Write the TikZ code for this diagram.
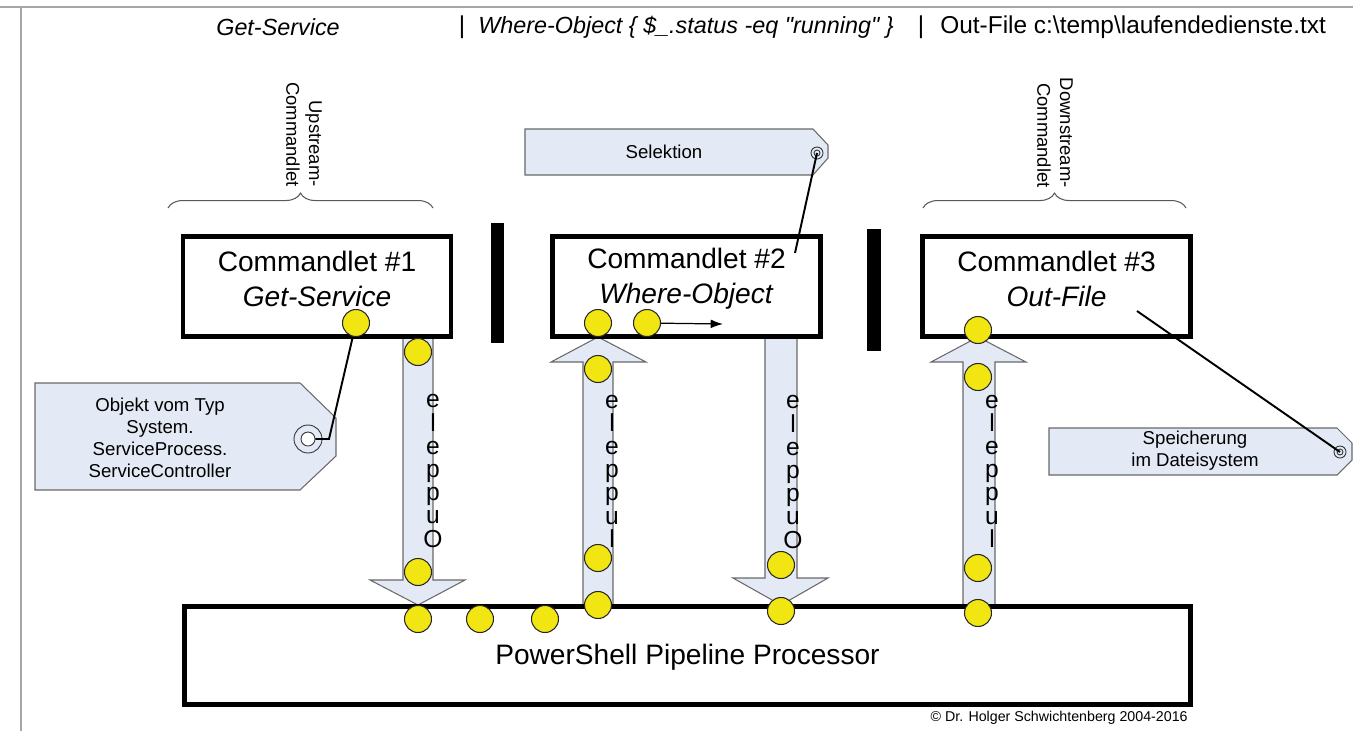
\documentclass[tikz,border=0pt]{standalone}
\usepackage{fontspec}
\setmainfont{Liberation Sans}
\usetikzlibrary{decorations.pathreplacing,arrows.meta}
\definecolor{tagfill}{RGB}{228,234,245}
\definecolor{tagline}{RGB}{105,105,105}
\definecolor{dotfill}{RGB}{242,230,18}
% raw fonts, so that " stays a straight quote
\font\topit="Liberation Sans/I" at 13.3pt
\font\toprm="Liberation Sans" at 13.9pt
\begin{document}
\begin{tikzpicture}[x=0.02cm,y=-0.02cm,
  cmdbox/.style={draw, line width=2.6pt, minimum width=5.36cm, minimum height=2cm, inner sep=0},
  bigtext/.style={font=\fontsize{16}{19.8}\selectfont, align=center},
  blockarrow/.style={draw=tagline, fill=tagfill, line width=0.6pt},
  tagshape/.style={draw=tagline, fill=tagfill, line width=0.6pt},
  tagtext/.style={font=\fontsize{10.6}{12.5}\selectfont, align=center},
  obj/.style={circle, draw=black!85, fill=dotfill, line width=0.6pt, minimum size=0.54cm, inner sep=0},
  ring/.style={circle, draw=black!80, line width=0.5pt, inner sep=0},
  tieline/.style={line width=1.1pt},
  flowtext/.style={font=\fontsize{14}{13.2}\selectfont, align=center, inner sep=0},
  sidetext/.style={font=\fontsize{10.5}{13}\selectfont, rotate=-90, anchor=east, align=right, inner sep=0},
  curly/.style={draw=black!65, line width=0.6pt, decorate, decoration={brace, amplitude=8.5pt}},
  toptext/.style={inner sep=0}]
\useasboundingbox (0,0) rectangle (1353,731);
% frame
\draw[black!35, line width=1.1pt] (0,7) -- (1353,7);
\draw[black!35, line width=1.1pt] (21,7) -- (21,731);

% command line
\node[toptext] (gs) at (278,27) {\topit Get-Service};
\node[toptext] (pipe1) at (462,27) {\toprm |};
\node[toptext, anchor=west] (wo) at (478,27) {\topit Where-Object \{ \$\_.status -eq "running" \}};
\node[toptext] (pipe2) at (921,27) {\toprm |};
\node[toptext, anchor=west] (of) at (940,27) {\toprm Out-File c:\textbackslash temp\textbackslash laufendedienste.txt};

% upstream / downstream
\draw[curly] (168,208) -- (433,208);
\draw[curly] (923,208) -- (1186,208);
\node[sidetext] (up) at (304,187) {Upstream-\\Commandlet};
\node[sidetext] (down) at (1055,188) {Downstream-\\Commandlet};

% tags
\draw[tagshape] (35,383) -- (300,383) -- (336,418) -- (336,456) -- (300,490) -- (35,490) -- cycle;
\node[tagtext] (objtxt) at (160,438) {Objekt vom Typ\\System.\\ServiceProcess.\\ServiceController};
\node[ring, minimum size=0.56cm] (hole1) at (308,439) {};
\node[ring, minimum size=0.28cm, fill=white] (hole1i) at (308,439) {};
\draw[tagshape] (525,129) -- (813,129) -- (828,145) -- (828,158) -- (813,175) -- (525,175) -- cycle;
\node[tagtext] (seltxt) at (664,152) {Selektion};
\node[ring, minimum size=0.24cm] (hole2) at (817,153) {};
\node[ring, minimum size=0.12cm] at (817,153) {};
\draw[tagshape] (1049,428) -- (1337,428) -- (1352,443) -- (1352,460) -- (1337,475) -- (1049,475) -- cycle;
\node[tagtext] (savetxt) at (1195,451) {Speicherung\\im Dateisystem};
\node[ring, minimum size=0.24cm] (hole3) at (1340,452) {};
\node[ring, minimum size=0.12cm] at (1340,452) {};

% block arrows
\draw[blockarrow] (403,337) -- (403,580) -- (370,580) -- (418,605) -- (465,580) -- (433,580) -- (433,337) -- cycle;
\draw[blockarrow] (583,605) -- (583,362) -- (551,362) -- (598,337) -- (646,362) -- (613,362) -- (613,605) -- cycle;
\draw[blockarrow] (765,337) -- (765,578) -- (733,578) -- (781,605) -- (828,578) -- (797,578) -- (797,337) -- cycle;
\draw[blockarrow] (963,605) -- (963,362) -- (931,362) -- (978,337) -- (1026,362) -- (995,362) -- (995,605) -- cycle;
\node[flowtext] (out1) at (433,471) {e\\l\\e\\p\\p\\u\\O};
\node[flowtext] (in1) at (612,471) {e\\l\\e\\p\\p\\u\\l};
\node[flowtext] (out2) at (793,472) {e\\l\\e\\p\\p\\u\\O};
\node[flowtext] (in2) at (992,471) {e\\l\\e\\p\\p\\u\\l};

% commandlets and separators
\node[cmdbox] (cmd1) at (317,286.5) {};
\node[cmdbox] (cmd2) at (686.5,286.5) {};
\node[cmdbox] (cmd3) at (1056.5,286.5) {};
\node[bigtext] at (317,279) {Commandlet \#1\\\textit{Get-Service}};
\node[bigtext] at (686.5,279) {Commandlet \#2\\\textit{Where-Object}};
\node[bigtext] at (1056.5,279) {Commandlet \#3\\\textit{Out-File}};
\fill (491,223) rectangle (504,343);
\fill (867,229) rectangle (881,351);
\node[cmdbox, minimum width=20.12cm, minimum height=1.96cm] (proc) at (687.5,655.5) {};
\node[bigtext] at (687.5,657) {PowerShell Pipeline Processor};

% connectors to the tags
\coordinate (sel) at (795,253);
\coordinate (save) at (1137,311);
\coordinate (knot1) at (329,439);
\draw[tieline] (356,323) -- (knot1) -- (hole1i.east);
\draw[tieline] (hole2.center) -- (sel);
\draw[tieline] (save) -- (hole3.center);

% objects
\node[obj] (o1) at (356,323) {};
\node[obj] (o2) at (418,352) {};
\node[obj] (o3) at (418,572) {};
\node[obj] (o4) at (418,619) {};
\node[obj] (o5) at (480,619) {};
\node[obj] (o6) at (545,619) {};
\node[obj] (o7) at (598,605) {};
\node[obj] (o8) at (598,558) {};
\node[obj] (o9) at (598,369) {};
\node[obj] (o10) at (598,323) {};
\node[obj] (o11) at (647,323) {};
\node[obj] (o12) at (781,565) {};
\node[obj] (o13) at (781,611) {};
\node[obj] (o14) at (978,613) {};
\node[obj] (o15) at (978,568) {};
\node[obj] (o16) at (978,377) {};
\node[obj] (o17) at (978,330) {};
\coordinate (next) at (723,324);
\draw[line width=0.7pt, -{Latex[length=7pt,width=5pt]}] (o11) -- (next);

\node[font=\fontsize{8.1}{10}\selectfont, anchor=east, inner sep=0] (copy) at (1188,718) {© Dr. Holger Schwichtenberg 2004-2016};
\end{tikzpicture}
\end{document}
